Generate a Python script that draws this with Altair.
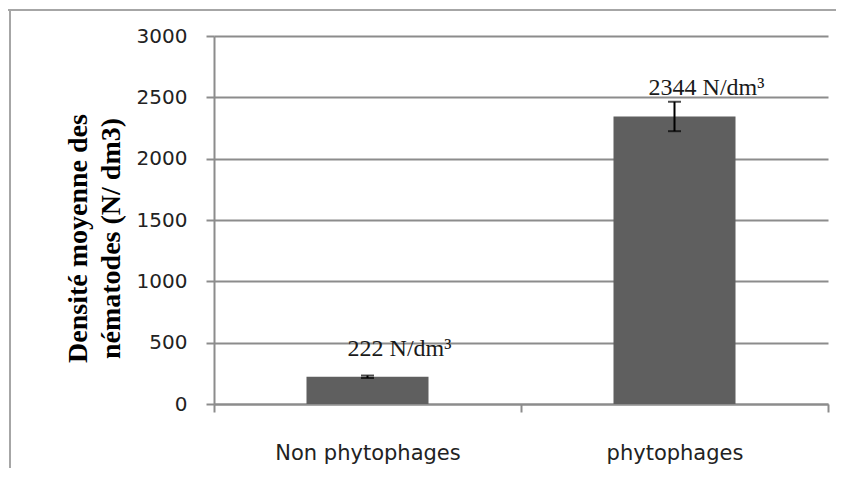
import altair as alt
import pandas as pd

categories = ["Non phytophages", "phytophages"]
means = [222, 2344]
errors = [10, 120]
labels = ["222 N/dm³", "2344 N/dm³"]
y_ticks = [0, 500, 1000, 1500, 2000, 2500, 3000]
y_title = ["Densité moyenne des", "nématodes (N/ dm3)"]

df = pd.DataFrame({"cat": categories, "mean": means, "err": errors, "label": labels})

base = alt.Chart(df).transform_calculate(
    lo="datum.mean - datum.err", hi="datum.mean + datum.err"
)

xenc = alt.X(
    "cat:N",
    sort=categories,
    scale=alt.Scale(paddingInner=0, paddingOuter=0),
    axis=alt.Axis(
        title=None, labelAngle=0, tickBand="extent", tickSize=8, tickColor="#8c8c8c",
        tickWidth=2, domainColor="#8c8c8c", domainWidth=2, labelFont="DejaVu Sans",
        labelFontSize=21, labelColor="#222222", labelPadding=30, grid=False,
        labelBaseline="top", labelLimit=500,
    ),
)

yscale = alt.Scale(domain=[0, 3000], nice=False)
yaxis = alt.Axis(
    values=y_ticks, format="d", title=y_title, grid=True, gridColor="#8c8c8c", gridWidth=2,
    domainColor="#8c8c8c", domainWidth=2, tickColor="#8c8c8c", tickWidth=2, tickSize=8,
    labelFont="DejaVu Sans", labelFontSize=20, labelColor="#222222", labelPadding=19,
    titleFont="Liberation Serif", titleFontWeight="bold", titleFontSize=28,
    titleColor="#000000", titleLineHeight=33, titleAngle=270, titleAlign="center",
    titleBaseline="alphabetic", titleX=-128, titleY=202,
)

bars = base.mark_bar(size=122, color="#5f5f5f").encode(
    x=xenc, y=alt.Y("mean:Q", scale=yscale, axis=yaxis)
)
err_rule = base.mark_rule(color="#000000", strokeWidth=2).encode(
    x=alt.X("cat:N", sort=categories), y="lo:Q", y2="hi:Q"
)
cap_lo = base.mark_tick(color="#000000", size=13, thickness=2).encode(
    x=alt.X("cat:N", sort=categories), y="lo:Q"
)
cap_hi = base.mark_tick(color="#000000", size=13, thickness=2).encode(
    x=alt.X("cat:N", sort=categories), y="hi:Q"
)
text = base.mark_text(
    font="Liberation Serif", fontSize=24, color="#1a1a1a", align="center",
    baseline="alphabetic", dx=32, dy=-21,
).encode(x=alt.X("cat:N", sort=categories), y="mean:Q", text="label:N")

frame_data = alt.Data(values=[{"a": 1}])
border_left = alt.Chart(frame_data).mark_rule(color="#a6a6a6", strokeWidth=2).encode(
    x=alt.value(-204), y=alt.value(-26), y2=alt.value(480)
)
border_top = alt.Chart(frame_data).mark_rule(color="#a6a6a6", strokeWidth=2).encode(
    x=alt.value(-210), x2=alt.value(640), y=alt.value(-26)
)

chart = alt.layer(border_left, border_top, bars, err_rule, cap_lo, cap_hi, text).properties(
    width=614, height=368,
    padding={"left": 206, "top": 28, "right": 8, "bottom": 64},
    autosize=alt.AutoSizeParams(type="none"),
).configure_view(stroke=None)

chart.save("out.html", embed_options={"renderer": "svg", "actions": False})
